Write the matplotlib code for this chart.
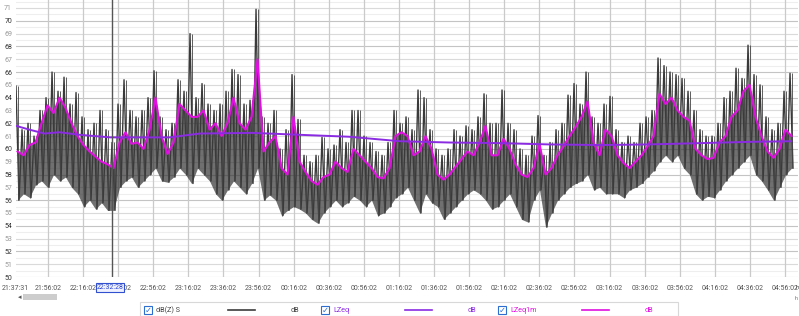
import numpy as np
import matplotlib
matplotlib.use("Agg")
import matplotlib.pyplot as plt
from matplotlib.patches import Rectangle

# dB(Z) S: upper / lower swing per sample slot (about 3.4 min each)
dbz_hi = [
    64.9, 61.5, 62.0, 61.0, 63.0, 64.0, 66.0, 64.5, 65.6, 63.5,
    64.4, 62.5, 61.5, 62.0, 63.0, 61.5, 60.5, 63.5, 65.4, 63.0,
    62.5, 63.0, 64.0, 66.1, 62.5, 61.5, 62.0, 65.4, 64.5, 69.0,
    64.0, 65.1, 63.5, 63.0, 63.5, 64.5, 66.2, 65.8, 63.5, 63.8,
    70.9, 62.5, 62.0, 63.0, 60.0, 61.5, 65.8, 62.3, 59.5, 59.0,
    59.5, 60.9, 60.0, 60.3, 61.5, 60.5, 63.0, 63.0, 61.0, 60.5,
    59.8, 59.5, 60.5, 63.0, 62.0, 62.5, 61.5, 64.6, 64.0, 61.5,
    60.0, 59.5, 60.0, 61.5, 61.0, 61.8, 61.5, 62.5, 64.3, 62.0,
    62.0, 64.6, 62.0, 61.5, 60.0, 59.5, 61.0, 62.6, 59.5, 60.5,
    61.5, 62.0, 64.2, 65.1, 63.5, 66.0, 62.5, 62.0, 63.5, 64.1,
    61.5, 60.5, 61.0, 60.5, 62.0, 62.5, 63.0, 67.1, 66.5, 66.0,
    65.8, 65.5, 64.5, 63.0, 61.5, 61.0, 61.0, 62.0, 64.0, 64.5,
    66.3, 65.5, 68.1, 65.8, 65.0, 62.5, 61.5, 62.0, 64.5, 65.9,
]
dbz_lo = [
    56.0, 56.5, 56.2, 57.2, 57.5, 57.0, 58.0, 57.5, 57.8, 57.0,
    56.5, 55.5, 56.0, 55.3, 55.8, 55.2, 55.2, 57.0, 57.5, 57.8,
    57.0, 57.5, 58.0, 58.5, 57.5, 57.4, 57.8, 58.5, 58.0, 57.3,
    58.5, 58.0, 57.5, 56.5, 56.0, 56.8, 57.5, 57.0, 56.5, 57.3,
    58.5, 56.0, 56.4, 56.0, 54.8, 55.2, 55.5, 55.3, 55.0, 54.5,
    54.2, 55.0, 55.5, 56.0, 55.5, 55.8, 56.3, 56.0, 55.5, 56.0,
    54.8, 55.0, 55.5, 56.2, 56.5, 57.0, 56.0, 55.0, 56.5, 55.8,
    55.5, 54.5, 55.0, 55.5, 56.0, 56.5, 56.8, 56.5, 56.0, 55.3,
    55.5, 56.0, 56.5, 55.5, 54.5, 54.3, 56.0, 56.8, 53.9, 55.0,
    56.0, 56.5, 57.0, 57.3, 57.5, 58.0, 56.8, 57.0, 56.5, 56.5,
    56.5, 56.2, 56.8, 57.0, 57.3, 57.8, 58.3, 59.0, 59.5, 59.0,
    59.5, 58.5, 58.0, 56.5, 56.0, 56.3, 56.2, 56.8, 57.5, 58.0,
    58.5, 59.0, 59.5, 58.0, 57.5, 56.8, 56.0, 57.0, 58.0, 58.5,
]
# LZeq1m
lzeq1m = [
    59.8, 59.5, 60.3, 60.5, 62.0, 63.4, 62.8, 64.0, 63.2, 62.0,
    61.0, 60.3, 59.8, 59.4, 59.0, 58.8, 58.5, 60.5, 61.3, 60.4,
    60.5, 60.0, 61.5, 64.0, 61.0, 59.6, 60.5, 63.5, 63.0, 62.5,
    62.5, 63.0, 61.5, 62.0, 61.0, 62.0, 64.0, 62.0, 61.5, 62.5,
    67.0, 59.8, 60.5, 61.0, 58.5, 58.0, 62.5, 59.0, 58.2, 57.5,
    57.2, 57.8, 58.0, 59.0, 58.5, 58.2, 60.0, 59.5, 59.0, 58.5,
    57.8, 57.7, 58.5, 61.0, 61.3, 61.0, 59.5, 59.8, 61.0, 60.0,
    58.0, 57.6, 58.0, 58.6, 59.2, 59.8, 59.5, 60.5, 61.8, 59.5,
    59.5, 60.8, 60.0, 58.8, 58.0, 57.8, 58.5, 60.4, 58.0, 58.5,
    59.5, 60.2, 61.0, 61.7, 62.5, 63.7, 60.5, 59.5, 61.5, 61.0,
    59.5, 58.9, 58.5, 59.0, 59.5, 60.2, 61.0, 64.3, 63.5, 64.0,
    63.0, 62.5, 62.2, 60.0, 59.5, 59.2, 59.3, 60.5, 61.0, 62.5,
    63.0, 64.5, 65.0, 62.5, 61.0, 59.8, 59.3, 60.0, 61.5, 61.0,
]
# LZeq (running), minutes since 21:37:31
lzeq_t = [0.3, 8, 16.5, 25, 36.5, 54, 71, 88, 105, 135, 162, 190,
          219, 247, 276, 304, 333, 361, 390, 418, 442]
lzeq = [61.8, 61.5, 61.2, 61.3, 61.1, 60.9, 60.9, 60.9, 61.2, 61.25, 61.1,
        60.95, 60.6, 60.5, 60.45, 60.35, 60.3, 60.35, 60.45, 60.55, 60.6]

tick_labels = ["21:37:31", "21:56:02", "22:16:02", "22:36:02", "22:56:02",
               "23:16:02", "23:36:02", "23:56:02", "00:16:02", "00:36:02",
               "00:56:02", "01:16:02", "01:36:02", "01:56:02", "02:16:02",
               "02:36:02", "02:56:02", "03:16:02", "03:36:02", "03:56:02",
               "04:16:02", "04:36:02", "04:56:02"]
cursor_t = 54.95          # 22:32:28
cursor_label = "22:32:28"

W, H = 799, 316
PX_PER_MIN = 1.755
X0 = 15.5
X1 = 798

step = 6 / PX_PER_MIN
t = 0.3 + step * np.arange(len(dbz_hi))
zig_t = np.empty(2 * len(t))
zig_t[0::2] = t
zig_t[1::2] = t + step / 2
zig_v = np.empty(2 * len(t))
zig_v[0::2] = dbz_hi
zig_v[1::2] = dbz_lo

plt.rcParams["font.family"] = ["Roboto", "DejaVu Sans"]

fig = plt.figure(figsize=(W / 100, H / 100), dpi=100)
fig.patch.set_facecolor("white")
ax = fig.add_axes([X0 / W, (H - 277) / H, (X1 - X0) / W, 277 / H])

ax.fill_between(t + step / 4, dbz_lo, lzeq1m, color="#333333", alpha=0.7,
                lw=0, zorder=2)
ax.plot(zig_t, zig_v, color="#3a3a3a", lw=1.0, zorder=3)
ax.vlines(t + step / 4, dbz_lo, dbz_hi, color="#444444", lw=0.6, zorder=3)
ax.plot(t + step / 4, lzeq1m, color="#e010e0", lw=1.5, zorder=4)
ax.plot(lzeq_t, lzeq, color="#8a2be2", lw=1.4, zorder=5)
ax.axvline(cursor_t, color="#555555", lw=1.0, zorder=6)

ax.set_xlim(0, (X1 - X0) / PX_PER_MIN)
ax.set_ylim(50, 50 + 277 / 12.81)

# grid: half dB very light, every dB light, vertical at ticks
for v in np.arange(50, 72, 0.5):
    if v % 2 == 0:
        c = "#c4c4c4"
    elif v % 1 == 0:
        c = "#dadada"
    else:
        c = "#eeeeee"
    ax.axhline(v, color=c, lw=0.8, zorder=1)

tick_pos = [0] + [18.517 + 20 * k for k in range(len(tick_labels) - 1)]
for p in tick_pos[1:]:
    ax.axvline(p, color="#cacaca", lw=0.9, zorder=1)

ax.set_xticks(tick_pos)
ax.set_xticklabels(tick_labels, fontsize=5.0, color="#555555")
ax.set_yticks(range(50, 72))
ax.set_yticklabels([str(v) for v in range(50, 72)], fontsize=5.0)
for v, lab in zip(range(50, 72), ax.get_yticklabels()):
    lab.set_color("#333333" if v % 2 == 0 else "#9a9a9a")
ax.tick_params(length=0, pad=2.5)
ax.tick_params(axis="x", pad=6)
for s in ax.spines.values():
    s.set_visible(False)


def fx(px):
    return px / W


def fy(py):
    return 1 - py / H


# cursor time box over the axis labels
fig.text(fx(110), fy(287.5), cursor_label, fontsize=5.0, color="#2b46c8",
         ha="center", va="center", zorder=10,
         bbox=dict(boxstyle="square,pad=0.15", fc="#eef0ff", ec="#3050d0", lw=0.8))
fig.text(fx(797.5), fy(287.5), "h", fontsize=4.5, color="#555555",
         ha="center", va="center")
fig.text(fx(796), fy(298), "h", fontsize=4.0, color="#777777",
         ha="center", va="center")

# scroll bar
fig.patches.append(Rectangle((fx(23), fy(300)), fx(57) - fx(23), fy(294) - fy(300),
                             transform=fig.transFigure, fc="#cdcdcd", ec="none"))
fig.text(fx(20), fy(297), "◂", fontsize=5, color="#555555",
         ha="center", va="center", family="DejaVu Sans")

# legend
fig.patches.append(Rectangle((fx(140), fy(316)), fx(678) - fx(140), fy(302) - fy(316),
                             transform=fig.transFigure, fc="white", ec="#d8d8d8", lw=0.8))
entries = [("dB(Z) S", "#3c3c3c", "#444444", 148),
           ("LZeq", "#8a2be2", "#8a2be2", 325),
           ("LZeq1m", "#e010e0", "#e010e0", 502)]
for name, lc, tc, x in entries:
    fig.patches.append(Rectangle((fx(x - 4), fy(314)), fx(8), fy(306) - fy(314),
                                 transform=fig.transFigure, fc="white",
                                 ec="#2d6fd0", lw=0.8))
    fig.text(fx(x), fy(310), "✓", fontsize=6, color="#2d6fd0",
             ha="center", va="center", family="DejaVu Sans")
    fig.text(fx(x + 8), fy(310), name, fontsize=5.2, color=tc,
             ha="left", va="center")
    fig.add_artist(plt.Line2D([fx(x + 80), fx(x + 107)], [fy(310), fy(310)],
                              transform=fig.transFigure, color=lc, lw=1.2))
    fig.text(fx(x + 147), fy(310), "dB", fontsize=5.2, color=tc,
             ha="center", va="center")

fig.savefig("out.png", dpi=100)
